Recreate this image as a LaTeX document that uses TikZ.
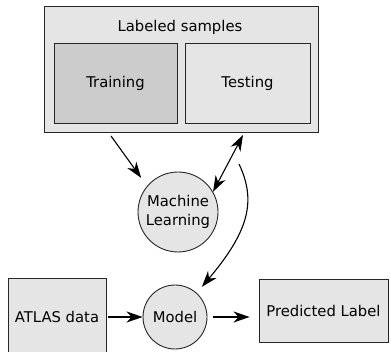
\documentclass[tikz,border=0pt]{standalone}
\usepackage{fontspec}
\setmainfont{DejaVu Sans}
\usetikzlibrary{arrows.meta}

\begin{document}
\begin{tikzpicture}[x=1pt,y=1pt,
  box/.style={draw=black!85, line width=0.9pt, fill=black!10, inner sep=0pt},
  blob/.style={circle, draw=black!85, line width=0.9pt, fill=black!10, inner sep=0pt, align=center},
  arr/.style={line width=1.1pt, -{Stealth[length=16pt, width=11pt, inset=5pt]}},
  arrtwo/.style={line width=1.1pt, {Stealth[length=16pt, width=11pt, inset=5pt]}-{Stealth[length=16pt, width=11pt, inset=5pt]}}]
\useasboundingbox (0,0) rectangle (391,351);
\fontsize{14.8}{19.5}\selectfont
\node[box, minimum width=274, minimum height=126] (samples) at (181,282) {};
\node (samplestxt) at (180,324) {Labeled samples};
\node[box, fill=black!20, minimum width=123, minimum height=80] (training) at (115.5,268) {Training};
\node[box, minimum width=125, minimum height=80] (testing) at (247.5,268) {Testing};
\node[blob, minimum size=80] (ml) at (178,139) {Machine\\Learning};
\node[blob, minimum size=64] (model) at (175,34) {Model};
\node[box, minimum width=98, minimum height=78] (atlas) at (57,34) {ATLAS data};
\node[box, minimum width=129, minimum height=63] (predicted) at (323.5,40.5) {Predicted Label};
\coordinate (trainout) at (111,215);
\coordinate (testout) at (243,216);
\coordinate (curvestart) at (239,187);
\draw[arr, shorten >=10pt] (trainout) -- (ml.140);
\draw[arrtwo] (testout) -- (ml.30);
\draw[arr, shorten >=8pt] (curvestart) .. controls (256,151) and (250,121) .. (model.48);
\draw[arr, shorten <=2pt] (atlas.east) -- (model.west);
\draw[arr, shorten <=6pt, shorten >=9pt] (model.east) -- (predicted.west |- model.east);
\end{tikzpicture}
\end{document}
